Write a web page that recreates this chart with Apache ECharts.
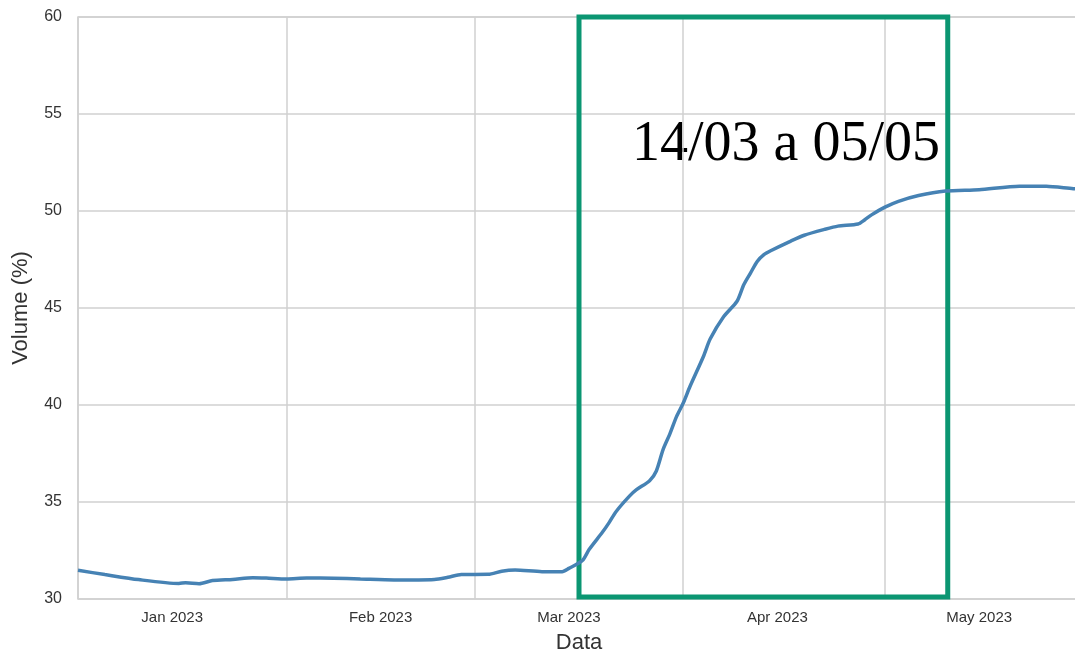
<!DOCTYPE html>
<html>
<head>
<meta charset="utf-8">
<script src="https://cdn.jsdelivr.net/npm/echarts@6/dist/echarts.min.js"></script>
<style>
html,body{margin:0;padding:0;background:#fff;overflow:hidden;}
#chart{width:1075px;height:654px;}
</style>
</head>
<body>
<div id="chart"></div>
<script>
// Observed points (date, volume %)
var pointDates = [
  '2023-01-01','2023-01-05','2023-01-10','2023-01-16','2023-01-17','2023-01-19','2023-01-21','2023-01-24','2023-01-27','2023-01-29',
  '2023-02-01','2023-02-04','2023-02-08','2023-02-12','2023-02-17','2023-02-23','2023-02-25','2023-02-27',
  '2023-03-03','2023-03-05','2023-03-07','2023-03-11','2023-03-14','2023-03-15','2023-03-17','2023-03-18','2023-03-20','2023-03-21',
  '2023-03-22','2023-03-24','2023-03-25','2023-03-27','2023-03-28','2023-03-29','2023-03-30','2023-03-31',
  '2023-04-01','2023-04-02','2023-04-04','2023-04-05','2023-04-07','2023-04-09','2023-04-10','2023-04-11','2023-04-12','2023-04-13',
  '2023-04-14','2023-04-17','2023-04-19','2023-04-22','2023-04-24','2023-04-27','2023-04-28','2023-04-29',
  '2023-05-01','2023-05-03','2023-05-06','2023-05-10','2023-05-15','2023-05-21','2023-05-25','2023-05-29','2023-05-30'
];
var pointValues = [
  31.48,31.26,31.00,30.80,30.84,30.79,30.95,31.01,31.10,31.08,
  31.03,31.08,31.07,31.03,30.98,31.01,31.12,31.26,
  31.27,31.43,31.49,31.41,31.41,31.58,31.98,32.55,33.45,33.95,
  34.50,35.30,35.62,36.10,36.60,37.70,38.50,39.40,
  40.10,40.95,42.50,43.40,44.55,45.35,46.20,46.80,47.40,47.75,
  47.95,48.45,48.75,49.05,49.22,49.33,49.55,49.80,
  50.20,50.50,50.80,51.03,51.10,51.28,51.27,51.15,51.14
];
var monthLabels = ['Jan 2023','Feb 2023','Mar 2023','Apr 2023','May 2023'];
var yTicks = [30,35,40,45,50,55,60];
var annotationText = '14/03 a 05/05';
var axisStart = '2023-01-01', axisEnd = '2023-05-30';
var boxStart = '2023-03-16T12:00:00Z', boxEnd = '2023-05-10T08:00:00Z';
var boxTop = 60, boxBottom = 30.1;

// daily category axis
var categories = [];
(function(){
  var d = new Date(axisStart + 'T00:00:00Z');
  var end = new Date(axisEnd + 'T00:00:00Z');
  while (d <= end) {
    categories.push(d.toISOString().slice(0,10));
    d = new Date(d.getTime() + 86400000);
  }
})();

var seriesData = pointDates.map(function(dt,i){ return [dt, pointValues[i]]; });

var chart = echarts.init(document.getElementById('chart'), null, {renderer:'canvas', width:1075, height:654});
var grey = '#d0d0d0';
var txt = '#333333';
chart.setOption({
  animation: false,
  backgroundColor: '#ffffff',
  grid: {left: 78, top: 17, width: 1002, height: 582, show: true, borderColor: grey, borderWidth: 1.5,
         containLabel: false, outerBoundsMode: 'none'},
  xAxis: [{
    type: 'category',
    data: categories,
    boundaryGap: false,
    name: 'Data',
    nameLocation: 'middle',
    nameGap: 33,
    nameTextStyle: {fontFamily: 'Liberation Sans', fontSize: 22, color: txt},
    axisLine: {show: false},
    axisTick: {show: false},
    axisLabel: {
      interval: function(idx, val){ return val.slice(8,10) === '15'; },
      formatter: function(val){ return monthLabels[parseInt(val.slice(5,7),10)-1]; },
      fontFamily: 'Liberation Sans', fontSize: 15, color: txt, margin: 11
    },
    splitLine: {
      show: true,
      interval: function(idx, val){ return val.slice(8,10) === '01'; },
      lineStyle: {color: grey, width: 1.5}
    }
  }, {
    type: 'time',
    min: axisStart + 'T00:00:00Z',
    max: axisEnd + 'T00:00:00Z',
    show: false
  }],
  yAxis: {
    type: 'value',
    min: yTicks[0], max: yTicks[yTicks.length-1], interval: 5,
    name: 'Volume (%)',
    nameLocation: 'middle',
    nameGap: 46,
    nameTextStyle: {fontFamily: 'Liberation Sans', fontSize: 22, color: txt},
    axisLine: {show: false},
    axisTick: {show: false},
    axisLabel: {fontFamily: 'Liberation Sans', fontSize: 16, color: txt, margin: 16},
    splitLine: {show: true, lineStyle: {color: grey, width: 1.5}}
  },
  series: [{
    type: 'line',
    data: seriesData,
    symbol: 'none',
    smooth: 0.25,
    clip: false,
    lineStyle: {color: '#4682b4', width: 3.5}
  }, {
    type: 'line',
    xAxisIndex: 1,
    data: [],
    markArea: {
      silent: true,
      itemStyle: {color: 'rgba(0,0,0,0)', borderColor: '#0b9672', borderWidth: 5},
      data: [[{xAxis: boxStart, yAxis: boxTop}, {xAxis: boxEnd, yAxis: boxBottom}]]
    }
  }],
  graphic: [{
    type: 'text',
    left: 632, top: 117,
    style: {text: annotationText, fontFamily: 'Liberation Serif', fontSize: 56, fill: '#000000'}
  }]
});
</script>
</body>
</html>
